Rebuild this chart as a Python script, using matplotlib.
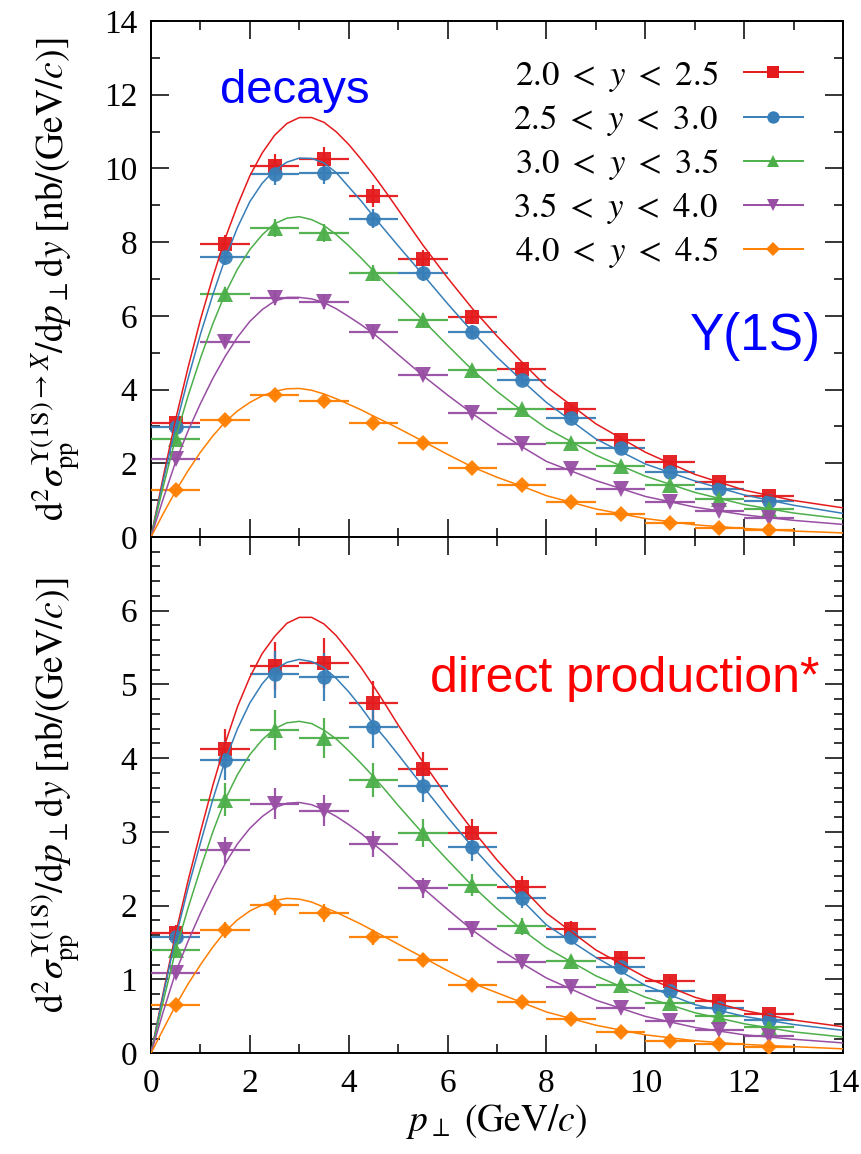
import matplotlib

matplotlib.use("Agg")
import matplotlib.pyplot as plt
from matplotlib.lines import Line2D
from matplotlib.ticker import MultipleLocator

# bin centres (p_T, GeV/c), bin half-width 0.5
PT = [0.5, 1.5, 2.5, 3.5, 4.5, 5.5, 6.5, 7.5, 8.5, 9.5, 10.5, 11.5, 12.5]

PT_CURVE = [0, 0.25, 0.5, 0.75, 1, 1.25, 1.5, 1.75, 2, 2.25, 2.5, 2.75, 3, 3.25, 3.5,
            3.75, 4, 4.25, 4.5, 4.75, 5, 5.5, 6, 6.5, 7, 7.5, 8, 9, 10, 11, 12, 13, 14]

RAPIDITY_BINS = ["2.0", "2.5", "3.0", "3.5", "4.0", "4.5"]

# --- top panel : decays ---
DEC_Y20 = [3.10, 7.94, 10.07, 10.25, 9.24, 7.55, 5.98, 4.57, 3.46, 2.63, 2.03, 1.50, 1.11]
DEC_Y25 = [2.99, 7.60, 9.85, 9.87, 8.64, 7.15, 5.57, 4.25, 3.22, 2.41, 1.77, 1.31, 0.98]
DEC_Y30 = [2.65, 6.59, 8.39, 8.24, 7.17, 5.89, 4.52, 3.46, 2.54, 1.93, 1.41, 1.03, 0.75]
DEC_Y35 = [2.11, 5.29, 6.49, 6.38, 5.55, 4.39, 3.36, 2.52, 1.84, 1.30, 0.94, 0.71, 0.51]
DEC_Y40 = [1.28, 3.17, 3.86, 3.69, 3.10, 2.54, 1.86, 1.41, 0.96, 0.63, 0.39, 0.25, 0.19]

DEC_ERR20 = [0.10, 0.25, 0.33, 0.33, 0.30, 0.24, 0.19, 0.15, 0.11, 0.09, 0.07, 0.05, 0.04]
DEC_ERR25 = [0.09, 0.23, 0.30, 0.30, 0.26, 0.21, 0.17, 0.13, 0.10, 0.07, 0.05, 0.04, 0.03]
DEC_ERR30 = [0.08, 0.20, 0.25, 0.25, 0.22, 0.18, 0.14, 0.10, 0.08, 0.06, 0.04, 0.03, 0.02]
DEC_ERR35 = [0.06, 0.16, 0.20, 0.19, 0.17, 0.13, 0.10, 0.08, 0.06, 0.04, 0.03, 0.02, 0.02]
DEC_ERR40 = [0.04, 0.10, 0.12, 0.11, 0.09, 0.08, 0.06, 0.04, 0.03, 0.02, 0.01, 0.01, 0.01]

DEC_FIT20 = [0, 1.65, 3.20, 4.60, 5.90, 7.05, 8.10, 9.00, 9.80, 10.42, 10.90, 11.22, 11.38,
             11.38, 11.25, 10.99, 10.65, 10.25, 9.82, 9.36, 8.88,
             7.92, 7.03, 6.20, 5.45, 4.75, 4.08, 3.07, 2.30, 1.70, 1.27, 0.99, 0.79]
DEC_FIT25 = [0, 1.54, 3.00, 4.30, 5.50, 6.57, 7.55, 8.40, 9.10, 9.60, 9.95, 10.17, 10.28,
             10.27, 10.15, 9.88, 9.50, 9.12, 8.70, 8.30, 7.90,
             7.12, 6.33, 5.57, 4.88, 4.25, 3.65, 2.66, 1.98, 1.52, 1.14, 0.86, 0.64]
DEC_FIT30 = [0, 1.38, 2.70, 3.83, 4.85, 5.78, 6.60, 7.27, 7.80, 8.20, 8.50, 8.65, 8.69,
             8.61, 8.45, 8.20, 7.90, 7.57, 7.22, 6.88, 6.55,
             5.88, 5.20, 4.53, 3.95, 3.43, 2.95, 2.22, 1.65, 1.21, 0.88, 0.65, 0.49]
DEC_FIT35 = [0, 1.05, 2.05, 2.88, 3.62, 4.30, 4.90, 5.42, 5.85, 6.17, 6.40, 6.50, 6.50,
             6.46, 6.36, 6.19, 5.98, 5.76, 5.52, 5.24, 4.95,
             4.38, 3.85, 3.35, 2.88, 2.45, 2.05, 1.53, 1.10, 0.81, 0.60, 0.45, 0.34]
DEC_FIT40 = [0, 0.64, 1.25, 1.80, 2.30, 2.74, 3.12, 3.42, 3.65, 3.83, 3.95, 4.02, 4.03,
             3.98, 3.88, 3.75, 3.60, 3.45, 3.28, 3.12, 2.95,
             2.60, 2.24, 1.90, 1.62, 1.38, 1.12, 0.76, 0.50, 0.33, 0.23, 0.16, 0.11]

# --- bottom panel : direct production ---
DIR_Y20 = [1.63, 4.13, 5.25, 5.29, 4.75, 3.85, 2.99, 2.26, 1.68, 1.29, 0.98, 0.71, 0.53]
DIR_Y25 = [1.57, 3.97, 5.14, 5.10, 4.42, 3.63, 2.79, 2.10, 1.58, 1.17, 0.85, 0.62, 0.45]
DIR_Y30 = [1.40, 3.44, 4.38, 4.27, 3.70, 2.99, 2.28, 1.72, 1.25, 0.93, 0.68, 0.50, 0.35]
DIR_Y35 = [1.09, 2.75, 3.38, 3.29, 2.84, 2.24, 1.68, 1.24, 0.90, 0.61, 0.44, 0.32, 0.23]
DIR_Y40 = [0.65, 1.67, 2.01, 1.90, 1.57, 1.27, 0.93, 0.69, 0.46, 0.29, 0.17, 0.12, 0.09]

DIR_ERR20 = [0.11, 0.27, 0.33, 0.34, 0.30, 0.24, 0.19, 0.14, 0.11, 0.08, 0.06, 0.05, 0.03]
DIR_ERR25 = [0.10, 0.26, 0.32, 0.32, 0.28, 0.23, 0.18, 0.13, 0.10, 0.08, 0.06, 0.04, 0.03]
DIR_ERR30 = [0.09, 0.22, 0.27, 0.27, 0.23, 0.19, 0.15, 0.11, 0.08, 0.06, 0.04, 0.03, 0.02]
DIR_ERR35 = [0.07, 0.18, 0.21, 0.21, 0.18, 0.14, 0.11, 0.08, 0.06, 0.04, 0.03, 0.02, 0.02]
DIR_ERR40 = [0.04, 0.11, 0.13, 0.12, 0.10, 0.08, 0.06, 0.05, 0.03, 0.02, 0.01, 0.01, 0.01]

DIR_FIT20 = [0, 0.83, 1.63, 2.34, 3.00, 3.63, 4.20, 4.70, 5.10, 5.42, 5.65, 5.83, 5.91,
             5.91, 5.82, 5.66, 5.45, 5.23, 4.98, 4.72, 4.45,
             3.95, 3.47, 3.03, 2.62, 2.25, 1.90, 1.40, 1.03, 0.76, 0.58, 0.45, 0.36]
DIR_FIT25 = [0, 0.80, 1.57, 2.24, 2.85, 3.44, 3.97, 4.40, 4.75, 5.01, 5.20, 5.30, 5.34,
             5.31, 5.23, 5.08, 4.90, 4.69, 4.46, 4.26, 4.05,
             3.62, 3.20, 2.80, 2.43, 2.08, 1.74, 1.30, 0.92, 0.66, 0.50, 0.39, 0.31]
DIR_FIT30 = [0, 0.71, 1.40, 1.97, 2.50, 3.00, 3.44, 3.78, 4.05, 4.25, 4.40, 4.48, 4.50,
             4.47, 4.38, 4.26, 4.10, 3.93, 3.75, 3.56, 3.36,
             2.98, 2.62, 2.27, 1.96, 1.68, 1.43, 1.05, 0.76, 0.55, 0.40, 0.29, 0.22]
DIR_FIT35 = [0, 0.57, 1.10, 1.52, 1.90, 2.25, 2.57, 2.84, 3.05, 3.21, 3.33, 3.39, 3.40,
             3.37, 3.30, 3.21, 3.10, 2.98, 2.84, 2.70, 2.55,
             2.24, 1.95, 1.67, 1.43, 1.22, 1.02, 0.72, 0.50, 0.35, 0.25, 0.19, 0.14]
DIR_FIT40 = [0, 0.33, 0.65, 0.94, 1.20, 1.44, 1.65, 1.81, 1.93, 2.01, 2.07, 2.10, 2.09,
             2.05, 1.98, 1.91, 1.83, 1.75, 1.66, 1.57, 1.48,
             1.30, 1.12, 0.95, 0.82, 0.69, 0.56, 0.38, 0.25, 0.17, 0.12, 0.09, 0.06]

COLORS = ["#e41a1c", "#377eb8", "#4daf4a", "#984ea3", "#ff7f00"]
MARKERS = [("s", 9.5), ("o", 10.5), ("^", 11), ("v", 11), ("D", 8.5)]

plt.rcParams.update({
    "font.family": ["Liberation Serif", "DejaVu Serif"],
    "mathtext.fontset": "stix",
    "axes.linewidth": 1.4,
})


def style_axis(ax, ymax, ymajor, yminor, show_x):
    ax.set_xlim(0, 14)
    ax.set_ylim(0, ymax)
    ax.xaxis.set_major_locator(MultipleLocator(2))
    ax.xaxis.set_minor_locator(MultipleLocator(1))
    ax.yaxis.set_major_locator(MultipleLocator(ymajor))
    ax.yaxis.set_minor_locator(MultipleLocator(yminor))
    ax.tick_params(which="both", direction="in", top=True, right=True, width=1.1,
                   labelsize=24)
    ax.tick_params(which="major", length=13)
    ax.tick_params(which="minor", length=6.5)
    ax.tick_params(axis="y", which="major", pad=10)
    ax.tick_params(axis="x", which="major", pad=11, labelbottom=show_x)


def draw_panel(ax, points, errors, fits):
    for (y, err, fit, color, (mk, ms)) in zip(points, errors, fits, COLORS, MARKERS):
        ax.errorbar(PT, y, xerr=0.5, yerr=err, fmt=mk, ms=ms, color=color, mew=0,
                    elinewidth=1.6, ecolor=color, alpha=0.95, capsize=0, zorder=3)
        ax.plot(PT_CURVE, fit, color=color, lw=1.1, zorder=4)


fig = plt.figure(figsize=(8.61, 11.54), dpi=100)
ax_top = fig.add_axes([0.1754, 0.5347, 0.8037, 0.4471])
ax_bot = fig.add_axes([0.1754, 0.0873, 0.8037, 0.4474])

draw_panel(ax_top,
           [DEC_Y20, DEC_Y25, DEC_Y30, DEC_Y35, DEC_Y40],
           [DEC_ERR20, DEC_ERR25, DEC_ERR30, DEC_ERR35, DEC_ERR40],
           [DEC_FIT20, DEC_FIT25, DEC_FIT30, DEC_FIT35, DEC_FIT40])
draw_panel(ax_bot,
           [DIR_Y20, DIR_Y25, DIR_Y30, DIR_Y35, DIR_Y40],
           [DIR_ERR20, DIR_ERR25, DIR_ERR30, DIR_ERR35, DIR_ERR40],
           [DIR_FIT20, DIR_FIT25, DIR_FIT30, DIR_FIT35, DIR_FIT40])

style_axis(ax_top, 14, 2, 1, show_x=False)
style_axis(ax_bot, 7, 1, 0.2, show_x=True)
ax_bot.set_yticks(range(0, 7))

ax_top.set_ylabel(r"$\mathrm{d}^2\sigma_{\mathrm{pp}}^{\Upsilon(1\mathrm{S})\to X}"
                  r"/\mathrm{d}p_{\perp}\mathrm{d}y\ \left[\mathrm{nb}/(\mathrm{GeV}/c)\right]$",
                  fontsize=27)
ax_bot.set_ylabel(r"$\mathrm{d}^2\sigma_{\mathrm{pp}}^{\Upsilon(1\mathrm{S})}"
                  r"/\mathrm{d}p_{\perp}\mathrm{d}y\ \left[\mathrm{nb}/(\mathrm{GeV}/c)\right]$",
                  fontsize=27)
ax_top.yaxis.set_label_coords(-0.098, 0.5)
ax_bot.yaxis.set_label_coords(-0.098, 0.5)
ax_bot.set_xlabel(r"$p_{\perp}\ (\mathrm{GeV}/c)$", fontsize=27, labelpad=2)

sans = ["Liberation Sans", "DejaVu Sans"]
ax_top.text(1.4, 11.77, "decays", color="#0000ff", fontsize=34, family=sans,
            va="baseline")
ax_top.text(10.9, 5.06, "\u03a5(1S)", color="#0000ff", fontsize=37, family=sans,
            va="baseline")
ax_bot.text(5.64, 4.90, "direct production*", color="#ff0000", fontsize=36,
            family=sans, va="baseline")

handles = [Line2D([], [], color=c, marker=mk, ms=ms * 0.85, mew=0, lw=1.4)
           for c, (mk, ms) in zip(COLORS, MARKERS)]
labels = [rf"${lo}\ <\ y\ <\ {hi}$" for lo, hi in zip(RAPIDITY_BINS[:-1], RAPIDITY_BINS[1:])]
ax_top.legend(handles, labels, loc="upper right", bbox_to_anchor=(0.962, 0.954),
              markerfirst=False, frameon=False, fontsize=25, handlelength=1.7,
              handletextpad=0.75, labelspacing=0.265, borderaxespad=0)

fig.savefig("out.png", dpi=100)
